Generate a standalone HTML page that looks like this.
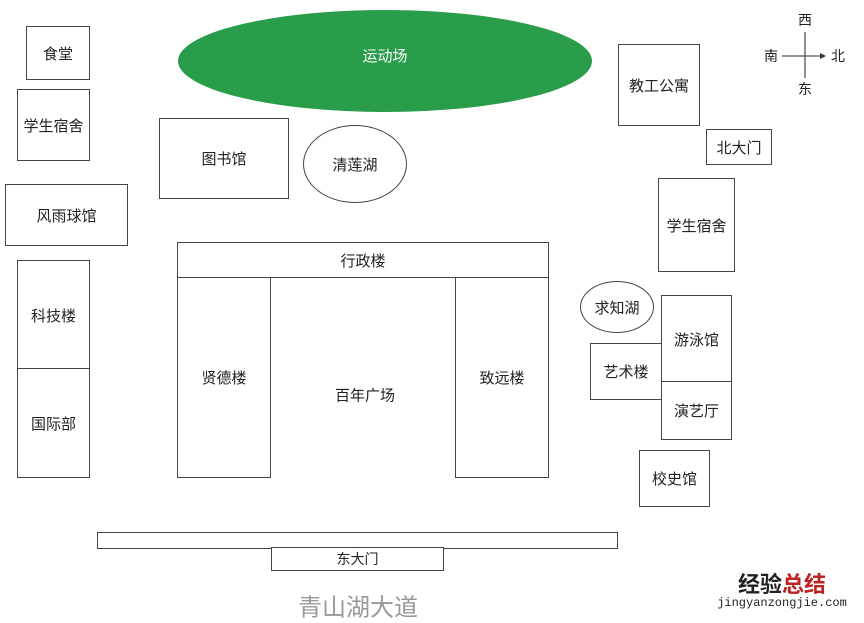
<!DOCTYPE html>
<html><head><meta charset="utf-8"><style>
body{margin:0;width:864px;height:621px;background:#fff;position:relative;overflow:hidden;font-family:"Liberation Sans","Noto Sans CJK SC",sans-serif;color:#222}
.b{position:absolute;border:1.5px solid #444;box-sizing:border-box;display:flex;align-items:center;justify-content:center;font-size:15px;background:#fff}
.e{border-radius:50%}
.t{position:absolute;font-size:15px;transform:translate(-50%,-50%);white-space:nowrap}
</style></head><body>
<div class="b e" style="left:178px;top:10px;width:414px;height:102px;background:#2a9d4a;border:none;color:#fff;padding-bottom:12px">运动场</div>
<div class="b" style="left:26px;top:26px;width:64px;height:54px">食堂</div>
<div class="b" style="left:17px;top:89px;width:73px;height:72px">学生宿舍</div>
<div class="b" style="left:5px;top:184px;width:123px;height:62px">风雨球馆</div>
<div class="b" style="left:17px;top:260px;width:73px;height:110px">科技楼</div>
<div class="b" style="left:17px;top:368px;width:73px;height:110px">国际部</div>
<div class="b" style="left:159px;top:118px;width:130px;height:81px">图书馆</div>
<div class="b e" style="left:303px;top:125px;width:104px;height:78px">清莲湖</div>
<div class="b" style="left:618px;top:44px;width:82px;height:82px">教工公寓</div>
<div class="b" style="left:706px;top:129px;width:66px;height:36px">北大门</div>
<div class="b" style="left:658px;top:178px;width:77px;height:94px">学生宿舍</div>
<div class="b" style="left:177px;top:242px;width:372px;height:36px">行政楼</div>
<div class="b" style="left:177px;top:277px;width:94px;height:201px">贤德楼</div>
<div class="b" style="left:455px;top:277px;width:94px;height:201px">致远楼</div>
<div class="t" style="left:365px;top:395px">百年广场</div>
<div class="b e" style="left:580px;top:281px;width:74px;height:52px">求知湖</div>
<div class="b" style="left:590px;top:343px;width:72px;height:57px">艺术楼</div>
<div class="b" style="left:661px;top:295px;width:71px;height:88px">游泳馆</div>
<div class="b" style="left:661px;top:381px;width:71px;height:59px">演艺厅</div>
<div class="b" style="left:639px;top:450px;width:71px;height:57px">校史馆</div>
<div class="b" style="left:97px;top:532px;width:521px;height:17px"></div>
<div class="b" style="left:271px;top:547px;width:173px;height:24px;font-size:14px">东大门</div>
<div class="t" style="left:358px;top:605px;font-size:24px;color:#999">青山湖大道</div>
<svg style="position:absolute;left:0;top:0" width="864" height="621">
<line x1="805" y1="32" x2="805" y2="78" stroke="#555" stroke-width="1.3"/>
<line x1="782" y1="56" x2="822" y2="56" stroke="#555" stroke-width="1.3"/>
<polygon points="826,56 820,53 820,59" fill="#333"/>
</svg>
<div class="t" style="left:805px;top:20px;font-size:14px">西</div>
<div class="t" style="left:771px;top:56px;font-size:14px">南</div>
<div class="t" style="left:838px;top:56px;font-size:14px">北</div>
<div class="t" style="left:805px;top:89px;font-size:14px">东</div>
<div class="t" style="left:782px;top:583px;font-size:22px;font-weight:bold"><span style="color:#222">经验</span><span style="color:#b22">总结</span></div>
<div class="t" style="left:782px;top:603px;font-size:12px;font-family:'Liberation Mono',monospace">jingyanzongjie.com</div>
</body></html>
